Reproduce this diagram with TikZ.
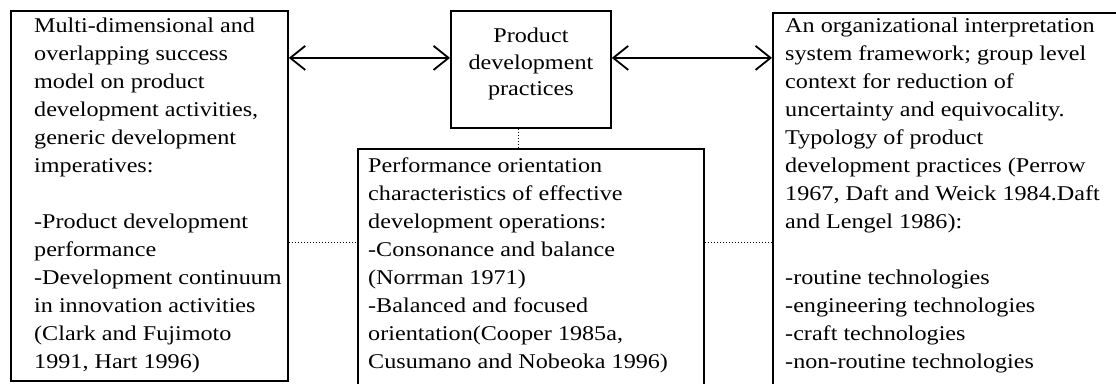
\documentclass[tikz,border=0pt]{standalone}
\usepackage{fontspec}
\setmainfont[FakeStretch=1.15]{Liberation Serif}
\usetikzlibrary{arrows.meta}
\begin{document}
\begin{tikzpicture}[x=1pt,y=-1pt,
  frame/.style={draw, line width=1.8pt, inner sep=0pt, anchor=north west},
  body/.style={inner sep=0pt, anchor=north west, align=left,
    font=\fontsize{21}{28}\selectfont},
  link/.style={line width=1.8pt,
    {Straight Barb[length=15pt,width=24pt]}-{Straight Barb[length=15pt,width=24pt]}},
  tie/.style={line width=1pt, dotted}]
\useasboundingbox (0,0) rectangle (1116,383);
\clip (0,0) rectangle (1116,383);

% boxes
\node[frame, minimum width=277pt, minimum height=370pt] (L) at (10,10) {};
\node[frame, minimum width=160pt, minimum height=117pt] (P) at (450,10) {};
\node[frame, minimum width=346pt, minimum height=260pt] (B) at (357,148) {};
\node[frame, minimum width=400pt, minimum height=400pt] (R) at (772,12) {};

% texts
\node[body] (Lt) at (34,18) {Multi-dimensional and\\overlapping success\\model on product\\development activities,\\generic development\\imperatives:\\[28pt]-Product development\\performance\\-Development continuum\\in innovation activities\\(Clark and Fujimoto\\1991, Hart 1996)};
\node[inner sep=0pt, align=center, font=\fontsize{21}{26.5}\selectfont] (Pt) at ([yshift=5pt]P.center) {Product\\development\\practices};
\node[body] (Bt) at (368,158) {Performance orientation\\characteristics of effective\\development operations:\\-Consonance and balance\\(Norrman 1971)\\-Balanced and focused\\orientation(Cooper 1985a,\\Cusumano and Nobeoka 1996)};
\node[body] (Rt) at (785,18) {An organizational interpretation\\system framework; group level\\context for reduction of\\uncertainty and equivocality.\\Typology of product\\development practices (Perrow\\1967, Daft and Weick 1984.Daft\\and Lengel 1986):\\[28pt]-routine technologies\\-engineering technologies\\-craft technologies\\-non-routine technologies};

% connectors
\coordinate (pl) at ([yshift=11.5pt]P.west);
\coordinate (pr) at ([yshift=11.5pt]P.east);
\draw[link] (L.east |- pl) -- (pl);
\draw[link] (pr) -- (R.west |- pr);
\coordinate (pd) at ([xshift=-12pt]P.south);
\draw[tie] (pd) -- (pd |- B.north);
\coordinate (ld) at ([yshift=-47pt]L.east);
\draw[tie] (ld) -- (ld -| B.west);
\coordinate (rd) at ([yshift=-47pt]L.east -| B.east);
\draw[tie] (rd) -- (rd -| R.west);
\end{tikzpicture}
\end{document}
